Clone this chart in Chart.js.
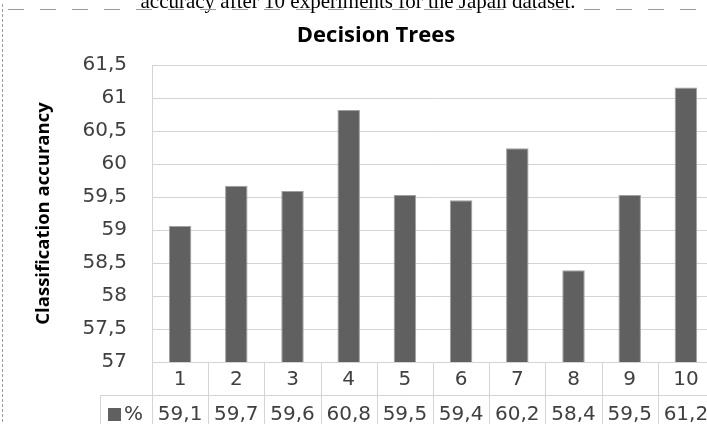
<!DOCTYPE html>
<html>
<head>
<meta charset="utf-8">
<script src="https://cdn.jsdelivr.net/npm/chart.js@4/dist/chart.umd.min.js"></script>
<style>
  html, body { margin: 0; padding: 0; background: #fff; overflow: hidden; }
  #wrap { position: relative; width: 707px; height: 424px; overflow: hidden; }
  #chart { position: absolute; left: 0; top: 0; }
</style>
</head>
<body>
<div id="wrap"><canvas id="chart" width="720" height="424"></canvas></div>
<script>
// data
const categories = ["1", "2", "3", "4", "5", "6", "7", "8", "9", "10"];
const accuracy = [59.06, 59.67, 59.59, 60.82, 59.53, 59.45, 60.24, 58.39, 59.53, 61.16];
const tableLabels = ["59,1", "59,7", "59,6", "60,8", "59,5", "59,4", "60,2", "58,4", "59,5", "61,2"];
const yTicks = [57, 57.5, 58, 58.5, 59, 59.5, 60, 60.5, 61, 61.5];
const seriesName = "%";
const chartTitle = "Decision Trees";
const axisTitle = "Classification accurancy";
const caption = "accuracy after 10 experiments for the Japan dataset.";

const numFont = '20px "DejaVu Sans"';
const textColor = "#404040";
const lineColor = "#d4d4d4";
const barColor = "#606060";

/**
 * Draws the page frame, caption and chart title
 */
const framePlugin = {
  id: "frame",
  beforeDraw(chart) {
    const ctx = chart.ctx;
    ctx.save();
    // caption cut off at the top of the page
    ctx.fillStyle = "#000";
    ctx.font = '21px "Liberation Serif"';
    ctx.textAlign = "center";
    ctx.textBaseline = "alphabetic";
    ctx.fillText(caption, 358, 8);

    // dashed page borders
    ctx.strokeStyle = "#9a9a9a";
    ctx.lineWidth = 1;
    ctx.setLineDash([16, 16]);
    ctx.beginPath();
    ctx.moveTo(8, 9.5);
    ctx.lineTo(707, 9.5);
    ctx.stroke();
    ctx.setLineDash([3, 2]);
    ctx.beginPath();
    ctx.moveTo(2.5, 4);
    ctx.lineTo(2.5, 424);
    ctx.stroke();

    // chart title
    ctx.setLineDash([]);
    ctx.fillStyle = "#000";
    ctx.font = 'bold 22px "Open Sans"';
    ctx.textBaseline = "middle";
    ctx.fillText(chartTitle, 376, 36);
    ctx.restore();
  },
};

/**
 * Draws the data table under the plot, aligned to the x scale
 */
const tablePlugin = {
  id: "dataTable",
  afterDraw(chart) {
    const { ctx, chartArea, scales } = chart;
    const x = scales.x;
    const half = (x.getPixelForValue(1) - x.getPixelForValue(0)) / 2;
    const top = Math.round(chartArea.bottom) + 0.5;
    const mid = 395.5;
    const bottom = 430;
    const keyLeft = 100.5;

    ctx.save();
    ctx.strokeStyle = lineColor;
    ctx.lineWidth = 1;
    ctx.beginPath();
    ctx.moveTo(keyLeft, mid);
    ctx.lineTo(chartArea.right, mid);
    ctx.moveTo(keyLeft, mid);
    ctx.lineTo(keyLeft, bottom);
    for (let i = 0; i <= categories.length; i++) {
      const xb = Math.round(x.getPixelForValue(i) - half) + 0.5;
      ctx.moveTo(xb, top);
      ctx.lineTo(xb, bottom);
    }
    ctx.stroke();

    ctx.fillStyle = textColor;
    ctx.font = numFont;
    ctx.textAlign = "center";
    ctx.textBaseline = "middle";
    categories.forEach((c, i) => {
      const cx = x.getPixelForValue(i);
      ctx.fillText(c, cx, 380);
      ctx.fillText(tableLabels[i], cx, 415);
    });

    // legend key
    ctx.fillStyle = barColor;
    ctx.fillRect(108, 408, 13, 13);
    ctx.fillStyle = textColor;
    ctx.textAlign = "left";
    ctx.fillText(seriesName, 124, 415);
    ctx.restore();
  },
};

const ctx = document.getElementById("chart").getContext("2d");

new Chart(ctx, {
  type: "bar",
  data: {
    labels: categories,
    datasets: [
      {
        label: seriesName,
        data: accuracy,
        backgroundColor: barColor,
        borderColor: "#a0a0a0",
        borderWidth: 1,
        categoryPercentage: 0.4,
        barPercentage: 1,
      },
    ],
  },
  options: {
    responsive: false,
    animation: false,
    devicePixelRatio: 1,
    layout: {
      padding: { left: 0, top: 65, right: 6, bottom: 62 },
    },
    plugins: {
      legend: { display: false },
      title: { display: false },
      tooltip: { enabled: false },
    },
    scales: {
      x: {
        display: false,
      },
      y: {
        min: 57,
        max: 61.5,
        afterFit: (scale) => {
          scale.width = 152;
        },
        afterBuildTicks: (scale) => {
          scale.ticks = yTicks.map((v) => ({ value: v }));
        },
        grid: {
          color: lineColor,
          drawTicks: false,
        },
        border: {
          display: true,
          color: lineColor,
        },
        ticks: {
          color: textColor,
          padding: 25,
          font: { family: "DejaVu Sans", size: 20 },
          callback: (value) => String(value).replace(".", ","),
        },
        title: {
          display: true,
          text: axisTitle,
          color: "#000",
          padding: { top: 33, bottom: 0 },
          font: { family: "Open Sans", size: 18.5, weight: "bold" },
        },
      },
    },
  },
  plugins: [framePlugin, tablePlugin],
});
</script>
</body>
</html>
